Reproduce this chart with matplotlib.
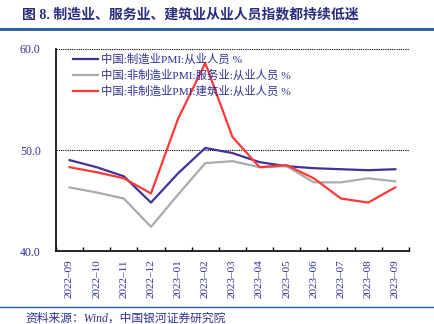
import numpy as np
import matplotlib.pyplot as plt
from matplotlib.lines import Line2D

plt.rcParams['font.family'] = ['Liberation Serif', 'Noto Sans CJK SC', 'DejaVu Sans']

months = ['2022–09', '2022–10', '2022–11', '2022–12', '2023–01', '2023–02', '2023–03',
          '2023–04', '2023–05', '2023–06', '2023–07', '2023–08', '2023–09']
manufacturing = [49.0, 48.3, 47.4, 44.8, 47.7, 50.2, 49.7, 48.8, 48.4, 48.2, 48.1, 48.0, 48.1]
services = [46.3, 45.8, 45.2, 42.4, 45.6, 48.7, 48.9, 48.3, 48.4, 46.8, 46.8, 47.2, 46.9]
construction = [48.3, 47.8, 47.2, 45.7, 53.1, 58.6, 51.3, 48.3, 48.5, 47.2, 45.2, 44.8, 46.3]
series_names = ['中国:制造业PMI:从业人员 %',
                '中国:非制造业PMI:服务业:从业人员 %',
                '中国:非制造业PMI:建筑业:从业人员 %']

navy = '#2E3192'
fig = plt.figure(figsize=(4.34, 3.24), dpi=100)
ax = fig.add_axes([0.129, 0.225, 0.813, 0.624])

x = np.arange(len(months))
ax.plot(x, manufacturing, color='#3D3496', lw=1.6, label=series_names[0])
ax.plot(x, services, color='#ABABAB', lw=1.6, label=series_names[1])
ax.plot(x, construction, color='#FF3838', lw=1.6, label=series_names[2])

ax.set_xlim(-0.5, len(months) - 0.5)
ax.set_ylim(40, 60)
ax.set_yticks([40, 50, 60])
ax.set_yticklabels(['40.0', '50.0', '60.0'], color=navy, fontsize=8.5)
for v in [50, 60]:
    ax.axhline(v, color='black', lw=0.8, ls=(0, (1, 1)), zorder=0)

ax.set_xticks(x)
ax.set_xticklabels(months, rotation=90, color=navy, fontsize=8)
ax.tick_params(axis='x', which='major', length=0, pad=6)
ax.set_xticks(np.arange(len(months) + 1) - 0.5, minor=True)
ax.tick_params(axis='x', which='minor', direction='in', length=3, width=1)
ax.tick_params(axis='y', length=0, pad=11)

for s in ['top', 'right']:
    ax.spines[s].set_visible(False)
ax.spines['left'].set_linewidth(1.2)
ax.spines['bottom'].set_linewidth(1.2)

leg = ax.legend(loc='upper left', frameon=False, fontsize=8.2, handlelength=2.2,
                handletextpad=0.3, labelspacing=0.4, borderaxespad=0,
                bbox_to_anchor=(0.035, 1.0))
for t in leg.get_texts():
    t.set_color(navy)

fig.text(0.05, 0.955, '图 8. 制造业、服务业、建筑业从业人员指数都持续低迷',
         fontsize=10, fontweight='bold', color='#2A2D7C', va='center')
fig.add_artist(Line2D([0, 1], [0.91, 0.91], color='#1F5A9E', lw=2))
fig.add_artist(Line2D([0, 1], [0.052, 0.052], color='#1F5A9E', lw=1))
fig.text(0.058, 0.016, '资料来源：Wind，中国银河证券研究院', fontsize=8.5,
         style='italic', color=navy, va='center')

fig.savefig('out.png', dpi=100)
